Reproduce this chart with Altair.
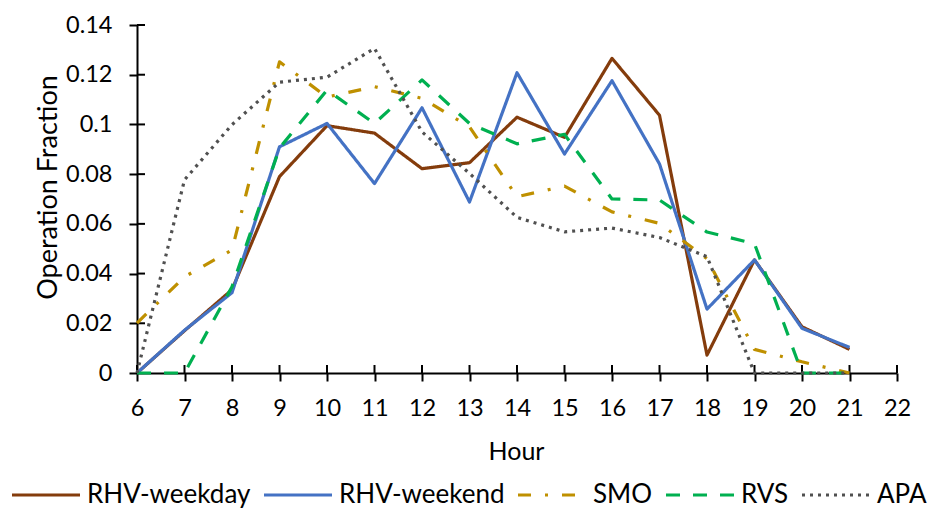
import altair as alt
import pandas as pd

# Hour of day (x) and operation fraction per hour for each series
hours = [6, 7, 8, 9, 10, 11, 12, 13, 14, 15, 16, 17, 18, 19, 20, 21]
series_names = ["RHV-weekday", "RHV-weekend", "SMO", "RVS", "APA"]

rhv_weekday = [0.0, 0.017, 0.0335, 0.079, 0.0995, 0.0965, 0.0822, 0.0846,
               0.1029, 0.0948, 0.1266, 0.1037, 0.0072, 0.0455, 0.0186, 0.0095]
rhv_weekend = [0.0, 0.0172, 0.0323, 0.091, 0.1004, 0.0762, 0.1067, 0.0688,
               0.1208, 0.0881, 0.1176, 0.0841, 0.0257, 0.0455, 0.018, 0.0103]
smo = [0.0201, 0.0387, 0.0495, 0.1252, 0.111, 0.1152, 0.1105, 0.099,
       0.0709, 0.0752, 0.0648, 0.0602, 0.046, 0.0095, 0.0045, 0.0]
rvs = [0.0, 0.0, 0.0347, 0.0905, 0.1138, 0.1004, 0.1179, 0.1004,
       0.0922, 0.096, 0.07, 0.0696, 0.0567, 0.052, 0.0, 0.0]
apa = [0.0, 0.0777, 0.0999, 0.117, 0.119, 0.1306, 0.097, 0.0803,
       0.0626, 0.0568, 0.0583, 0.0545, 0.0468, 0.0, 0.0, 0.0]

x_ticks = [6, 7, 8, 9, 10, 11, 12, 13, 14, 15, 16, 17, 18, 19, 20, 21, 22]
y_ticks = [0.0, 0.02, 0.04, 0.06, 0.08, 0.1, 0.12, 0.14]

colors = ["#843C0C", "#4472C4", "#BF9000", "#00B050", "#505050"]
dashes = [[1, 0], [1, 0], [13, 14, 3, 14], [14, 13], [3, 5]]

rows = []
for name, vals in zip(series_names, [rhv_weekday, rhv_weekend, smo, rvs, apa]):
    for h, v in zip(hours, vals):
        rows.append({"Hour": h, "Fraction": v, "Series": name})
df = pd.DataFrame(rows)

FONT = "Lato"
W, H = 760, 348
TICK = 8

x_scale = alt.Scale(domain=[6, 22], nice=False, zero=False)
y_scale = alt.Scale(domain=[0, 0.14], nice=False)

x_axis = alt.Axis(
    values=x_ticks, format="d", title="Hour", labelFlush=False, labelOverlap=False,
    titleX=379, titleY=86, titleBaseline="alphabetic", titleAlign="center",
    labelBaseline="alphabetic", labelPadding=34,
)
y_axis = alt.Axis(
    values=y_ticks, format=".2~f", title="Operation Fraction", labelFlush=False, labelOverlap=False,
    titleX=-81, titleY=162, titleBaseline="alphabetic", titleAlign="center",
    titleAngle=270, titleFontSize=27, labelPadding=17,
)

legend = alt.Legend(
    title=None, orient="none", legendX=-127, legendY=434,
    direction="horizontal", columns=5,
    symbolType="stroke", symbolSize=4624, symbolStrokeWidth=3.2,
    labelFont=FONT, labelFontSize=26, labelColor="black", labelLimit=400,
    labelOffset=5, columnPadding=6, padding=0,
)

lines = alt.Chart(df).mark_line(strokeWidth=3.2, strokeCap="butt", strokeJoin="round").encode(
    x=alt.X("Hour:Q", scale=x_scale, axis=x_axis),
    y=alt.Y("Fraction:Q", scale=y_scale, axis=y_axis),
    color=alt.Color("Series:N", scale=alt.Scale(domain=series_names, range=colors), legend=legend),
    strokeDash=alt.StrokeDash("Series:N", scale=alt.Scale(domain=series_names, range=dashes), legend=legend),
)

# inward halves of the tick marks (axes only draw the outward half)
x_inner = alt.Chart(pd.DataFrame({"Hour": x_ticks})).mark_rule(color="black", strokeWidth=2).encode(
    x=alt.X("Hour:Q", scale=x_scale, axis=x_axis),
    y=alt.value(H), y2=alt.value(H - TICK),
)
y_inner = alt.Chart(pd.DataFrame({"Fraction": y_ticks})).mark_rule(color="black", strokeWidth=2).encode(
    y=alt.Y("Fraction:Q", scale=y_scale, axis=y_axis),
    x=alt.value(0), x2=alt.value(TICK),
)

chart = alt.layer(x_inner, y_inner, lines).properties(
    width=W, height=H,
    autosize=alt.AutoSizeParams(type="none"),
    padding={"left": 137, "top": 25, "right": 33, "bottom": 135},
    background="white",
).configure_view(stroke=None).configure_axis(
    domainColor="black", domainWidth=2, tickColor="black", tickWidth=2, tickSize=TICK,
    grid=False, labelFont=FONT, labelFontSize=23.5, labelColor="black",
    titleFont=FONT, titleFontSize=25, titleFontWeight="normal", titleColor="black",
)

chart.save("out.html", embed_options={"renderer": "svg", "actions": False})
